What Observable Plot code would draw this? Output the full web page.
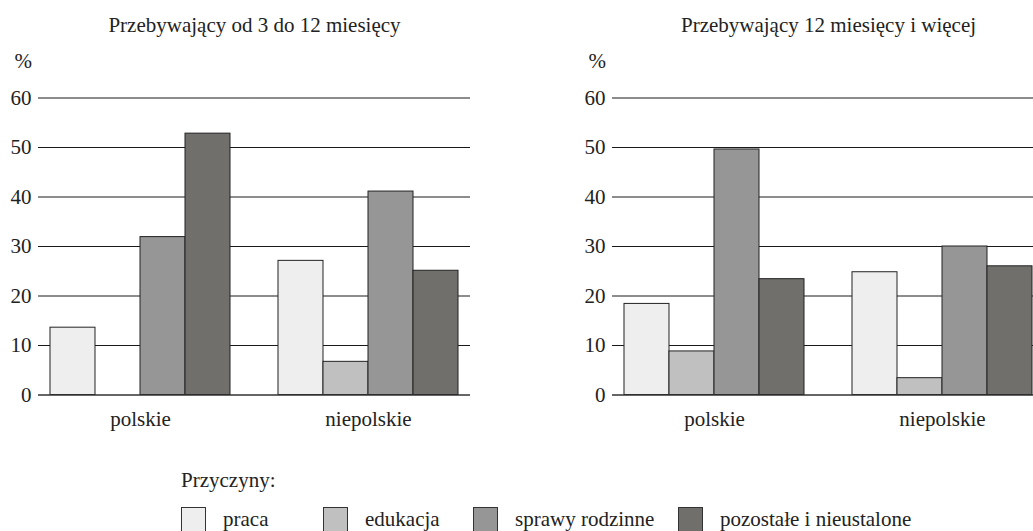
<!DOCTYPE html>
<html>
<head>
<meta charset="utf-8">
<script src="https://cdn.jsdelivr.net/npm/d3@7"></script>
<script src="https://cdn.jsdelivr.net/npm/@observablehq/plot@0.6"></script>
<style>
  html, body { margin: 0; padding: 0; background: #fff; overflow: hidden; }
  body { width: 1033px; height: 531px; position: relative; font-family: "Liberation Serif", serif; color: #222; }
  #charts { display: flex; width: 1033px; overflow: hidden; }
  #charts > svg { flex: none; }
  #charts svg, #charts svg text { font-family: "Liberation Serif", serif !important; }
  #legend-title { position: absolute; left: 181px; top: 470px; font-size: 21px; line-height: 21px; }
  #legend-row { position: absolute; left: 181px; top: 507px; display: flex; align-items: flex-start; font-size: 21px; line-height: 21px; }
  .item { display: flex; align-items: flex-start; flex: none; }
  .sw { width: 25px; height: 25px; box-sizing: border-box; border: 1px solid #333; flex: none; }
  .lab { margin-left: 17px; margin-top: 2px; white-space: nowrap; }
</style>
</head>
<body>
<div id="charts"></div>
<div id="legend-title"></div>
<div id="legend-row"></div>
<script>
// ---- data ----
const panelTitles = ["Przebywający od 3 do 12 miesięcy", "Przebywający 12 miesięcy i więcej"];
const groups = ["polskie", "niepolskie"];
const categories = ["praca", "edukacja", "sprawy rodzinne", "pozostałe i nieustalone"];
const yTicks = [0, 10, 20, 30, 40, 50, 60];
const unitLabel = "%";
const legendTitle = "Przyczyny:";
// panel 1: od 3 do 12 miesięcy
const shortPolskie = [13.6, 0, 31.9, 52.8];
const shortNiepolskie = [27.1, 6.7, 41.1, 25.1];
// panel 2: 12 miesięcy i więcej
const longPolskie = [18.4, 8.8, 49.6, 23.4];
const longNiepolskie = [24.8, 3.4, 30.0, 26.0];

// ---- styles ----
const palette = ["#eeeeee", "#c0c0c0", "#969696", "#706f6c"];
const legendItemWidths = [142, 150, 205, null];
const FS = 21;
const FONT = "Liberation Serif";
const OUTER = 12;   // outer facet padding (px)
const HALFGAP = 24; // half of the gap between groups (px)

function table(pol, niepol) {
  const rows = [];
  categories.forEach((c, i) => rows.push({group: groups[0], cat: c, value: pol[i]}));
  categories.forEach((c, i) => rows.push({group: groups[1], cat: c, value: niepol[i]}));
  return rows;
}

// horizontal rules spanning the full frame, drawn facet by facet
function spanRules(values, opts) {
  return [
    Plot.ruleY(values, {y: d => d, fx: () => groups[0], insetLeft: -OUTER, insetRight: -HALFGAP, ...opts}),
    Plot.ruleY(values, {y: d => d, fx: () => groups[1], insetLeft: -HALFGAP, insetRight: -OUTER, ...opts})
  ];
}

function panel(title, rows) {
  const t = {fontSize: FS, fontFamily: FONT, fill: "#222"};
  return Plot.plot({
    width: 574,
    height: 435,
    marginLeft: 38,
    marginRight: 104,
    marginTop: 97.5,
    marginBottom: 40.5,
    style: {fontFamily: FONT, fontSize: FS + "px", color: "#222", background: "#fff", overflow: "visible"},
    fx: {domain: groups, paddingInner: 0.2105, paddingOuter: 0.0526, axis: null, round: false},
    x: {domain: categories, padding: 0, axis: null, round: false},
    y: {domain: [0, 60], axis: null},
    color: {domain: categories, range: palette},
    marks: [
      ...spanRules(yTicks.filter(d => d > 0), {stroke: "#1a1a1a", strokeWidth: 1}),
      Plot.barY(rows, {fx: "group", x: "cat", y: "value", fill: "cat", stroke: "#222", strokeWidth: 1}),
      ...spanRules([0], {stroke: "#333", strokeWidth: 1.6}),
      Plot.text(yTicks, {fx: () => groups[0], y: d => d, text: d => String(d), frameAnchor: "left", textAnchor: "end", dx: -7 - OUTER, ...t}),
      Plot.text([unitLabel], {fx: () => groups[0], text: d => d, frameAnchor: "top-left", textAnchor: "start", lineAnchor: "top", dx: -36, dy: -45.4, ...t}),
      Plot.text([title], {text: d => d, frameAnchor: "top", lineAnchor: "top", dy: -81.4, facet: "super", ...t}),
      Plot.text(groups, {fx: d => d, text: d => d, frameAnchor: "bottom", lineAnchor: "top", dy: 15.6, ...t})
    ]
  });
}

const charts = document.getElementById("charts");
charts.append(panel(panelTitles[0], table(shortPolskie, shortNiepolskie)));
charts.append(panel(panelTitles[1], table(longPolskie, longNiepolskie)));

// legend
document.getElementById("legend-title").textContent = legendTitle;
const row = document.getElementById("legend-row");
categories.forEach((c, i) => {
  const item = document.createElement("div");
  item.className = "item";
  if (legendItemWidths[i]) item.style.width = legendItemWidths[i] + "px";
  const sw = document.createElement("div");
  sw.className = "sw";
  sw.style.background = palette[i];
  const lab = document.createElement("span");
  lab.className = "lab";
  lab.textContent = c;
  item.append(sw, lab);
  row.append(item);
});
</script>
</body>
</html>
